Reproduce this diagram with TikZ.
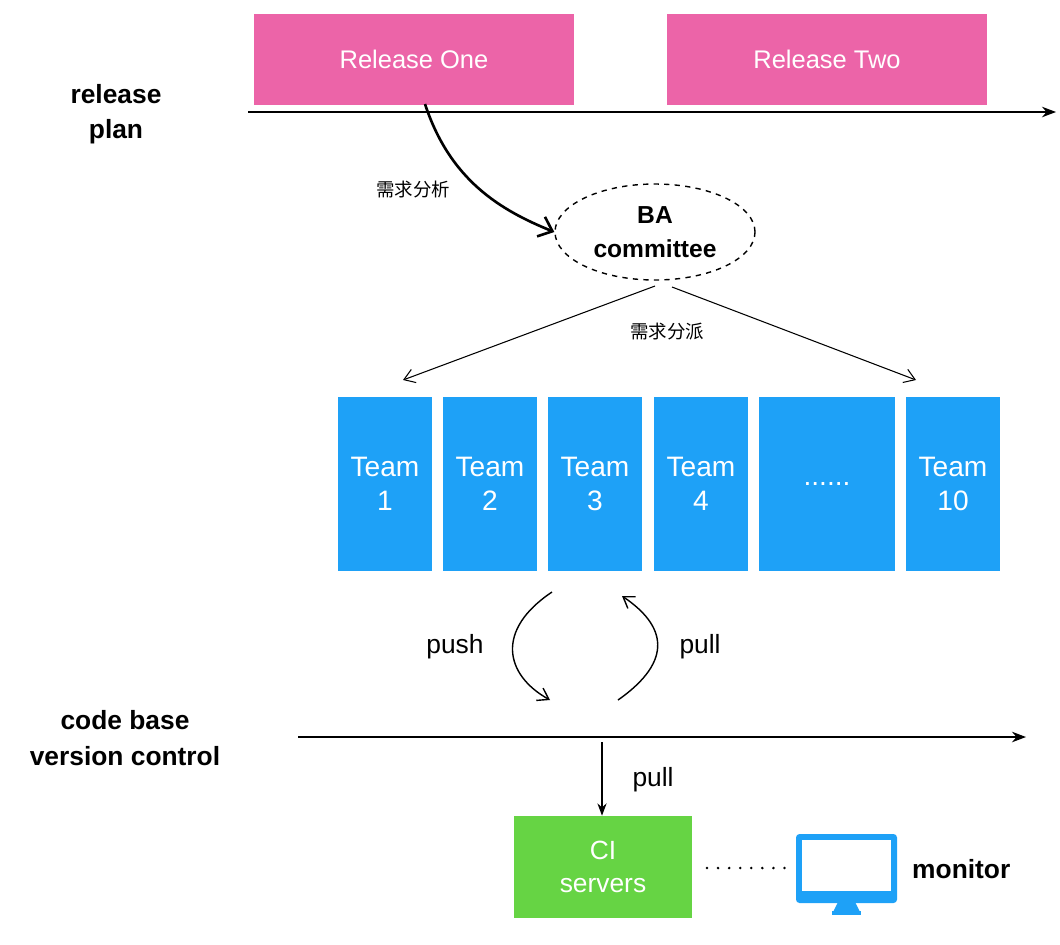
\documentclass[tikz,border=0pt]{standalone}
\usepackage{fontspec}
\setmainfont{Liberation Sans}
\newfontfamily\cjk{Noto Sans CJK SC}
\usetikzlibrary{shapes.geometric,arrows.meta}
\definecolor{pinkc}{HTML}{EC64A8}
\definecolor{bluec}{HTML}{1EA1F7}
\definecolor{greenc}{HTML}{66D444}
\begin{document}
\begin{tikzpicture}[x=0.02cm,y=-0.02cm,
 box/.style={draw=none,minimum width=#1*0.02cm,inner sep=0,text=white,align=center},
 rel/.style={box=320,fill=pinkc,minimum height=91*0.02cm,font=\fontsize{14.5}{17}\selectfont},
 team/.style={box=#1,fill=bluec,minimum height=174*0.02cm,font=\fontsize{16}{19.5}\selectfont},
 lbl/.style={font=\bfseries\fontsize{15}{20}\selectfont,align=center},
 arr/.style={-{Straight Barb[length=6pt,width=8pt]},line width=0.6pt}]
\useasboundingbox (0,0) rectangle (1060,944);
\node[rel] (r1) at (414,59) {Release One};
\node[rel] (r2) at (827,59) {Release Two};
\coordinate (t1a) at (248,112); \coordinate (t1b) at (1056,112);
\draw[-{Stealth[length=8pt]},line width=0.7pt] (t1a) -- (t1b);
\node[lbl] (rp) at (116,114) {release\\plan};
\node[ellipse,draw,dashed,line width=0.8pt,minimum width=200*0.02cm,minimum height=96*0.02cm,font=\bfseries\fontsize{14}{19}\selectfont,align=center,inner sep=0] (ba) at (655,232) {BA\\committee};
\coordinate (c0) at (425,104);
\draw[line width=1.5pt,-{Straight Barb[length=7pt,width=12pt]}] (c0) .. controls (450,180) and (500,210) .. (ba.west);
\node[font=\cjk\fontsize{10.5}{12}\selectfont] (l1) at (413,190) {需求分析};
\coordinate (sA) at (655,286); \coordinate (sB) at (672,287);
\coordinate (eA) at (403,380); \coordinate (eB) at (916,380);
\draw[arr] (sA) -- (eA);
\draw[arr] (sB) -- (eB);
\node[font=\cjk\fontsize{10.5}{12}\selectfont] (l2) at (667,332) {需求分派};
\node[team=94] (t1) at (385,484) {Team\\1};
\node[team=94] (t2) at (490,484) {Team\\2};
\node[team=94] (t3) at (595,484) {Team\\3};
\node[team=94] (t4) at (701,484) {Team\\4};
\node[team=136] (t5) at (827,484) {......};
\node[team=94] (t6) at (953,484) {Team\\10};
\coordinate (p1) at (552,592); \coordinate (p2) at (550,700);
\draw[arr,line width=0.8pt] (p1) .. controls (495,630) and (505,675) .. (p2);
\coordinate (q1) at (618,700); \coordinate (q2) at (622,596);
\draw[arr,line width=0.8pt] (q1) .. controls (675,660) and (665,625) .. (q2);
\node[font=\fontsize{15}{18}\selectfont] (push) at (455,647) {push};
\node[font=\fontsize{15}{18}\selectfont] (pull1) at (700,647) {pull};
\node[lbl] (cb) at (125,738) {code base\\version control};
\coordinate (t2a) at (298,737); \coordinate (t2b) at (1026,737);
\draw[-{Stealth[length=8pt]},line width=0.7pt] (t2a) -- (t2b);
\node[box=178,fill=greenc,minimum height=102*0.02cm,font=\fontsize{15}{19}\selectfont] (ci) at (603,867) {CI\\servers};
\coordinate (d0) at (602,742);
\draw[-{Stealth[length=7pt]},line width=0.7pt] (d0) -- (d0 |- ci.north);
\node[font=\fontsize{15}{18}\selectfont] (pull2) at (653,780) {pull};
% monitor
\fill[bluec,rounded corners=2pt] (796,834) rectangle (897,903);
\fill[white] (802,840) rectangle (891,891);
\fill[bluec] (838,902) -- (855,902) -- (860,912) -- (833,912) -- cycle;
\fill[bluec] (832,911) rectangle (861,915);
\node[draw=none,minimum width=100*0.02cm,minimum height=68*0.02cm,inner sep=0] (mon) at (846.5,868) {};
\coordinate (dd0) at (707,868); \coordinate (dd1) at (790,868);
\draw[line width=1.6pt,dash pattern=on 0pt off 6.3pt,line cap=round] (dd0) -- (dd1);
\node[lbl,anchor=west] (mt) at (906,869) {monitor};
\end{tikzpicture}
\end{document}
